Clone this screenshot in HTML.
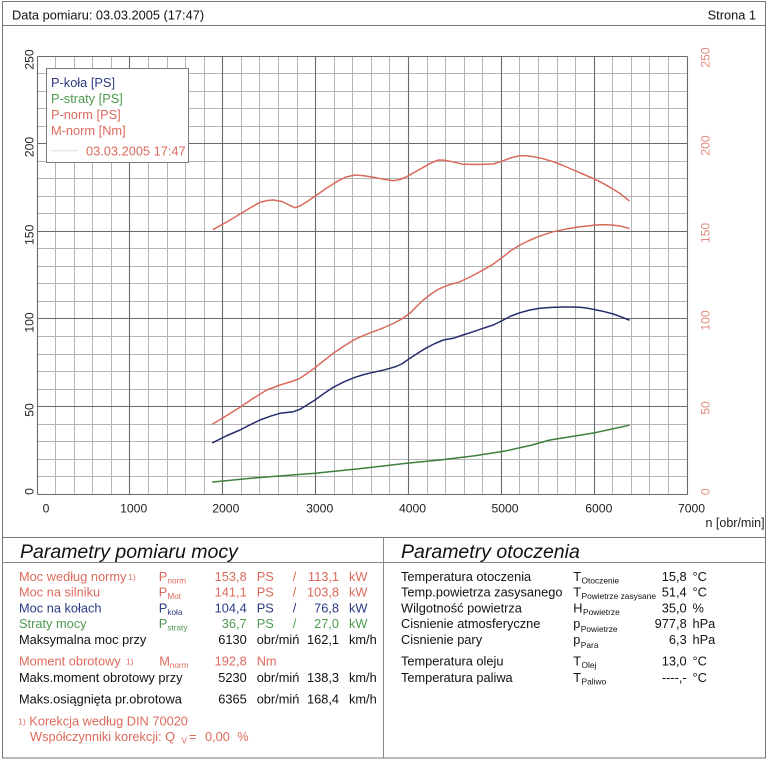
<!DOCTYPE html>
<html><head><meta charset="utf-8"><style>
html,body{margin:0;padding:0;background:#fff;}
body{width:768px;height:761px;overflow:hidden;}
svg{display:block;}
</style></head><body>
<svg width="768" height="761" viewBox="0 0 768 761" xmlns="http://www.w3.org/2000/svg" font-family="'Liberation Sans', Arial, sans-serif">
<rect x="0" y="0" width="768" height="761" fill="#fff"/>
<!-- frame -->
<rect x="2.5" y="1.5" width="763" height="756.5" fill="none" stroke="#777" stroke-width="1"/>
<line x1="2.5" y1="25.5" x2="765.5" y2="25.5" stroke="#777"/>
<line x1="2.5" y1="537.5" x2="765.5" y2="537.5" stroke="#777"/>
<line x1="2.5" y1="562.5" x2="765.5" y2="562.5" stroke="#888"/>
<line x1="383.5" y1="537.5" x2="383.5" y2="758" stroke="#888"/>
<!-- header -->
<text x="12" y="19.5" font-size="12.8" fill="#111">Data pomiaru: 03.03.2005 (17:47)</text>
<text x="756" y="19.5" font-size="12.8" fill="#111" text-anchor="end">Strona 1</text>
<!-- grid minor -->
<path fill="none" stroke="#b4b4b4" stroke-width="1" d="
M55.5 56.5V494.5 M74.5 56.5V494.5 M92.5 56.5V494.5 M111.5 56.5V494.5
M148.5 56.5V494.5 M167.5 56.5V494.5 M185.5 56.5V494.5 M204.5 56.5V494.5
M241.5 56.5V494.5 M259.5 56.5V494.5 M278.5 56.5V494.5 M297.5 56.5V494.5
M334.5 56.5V494.5 M352.5 56.5V494.5 M371.5 56.5V494.5 M389.5 56.5V494.5
M427.5 56.5V494.5 M445.5 56.5V494.5 M464.5 56.5V494.5 M482.5 56.5V494.5
M519.5 56.5V494.5 M538.5 56.5V494.5 M557.5 56.5V494.5 M575.5 56.5V494.5
M612.5 56.5V494.5 M631.5 56.5V494.5 M649.5 56.5V494.5 M668.5 56.5V494.5
M37.5 476.5H687.5 M37.5 459.5H687.5 M37.5 441.5H687.5 M37.5 424.5H687.5
M37.5 389.5H687.5 M37.5 371.5H687.5 M37.5 354.5H687.5 M37.5 336.5H687.5
M37.5 301.5H687.5 M37.5 283.5H687.5 M37.5 266.5H687.5 M37.5 248.5H687.5
M37.5 213.5H687.5 M37.5 196.5H687.5 M37.5 178.5H687.5 M37.5 161.5H687.5
M37.5 126.5H687.5 M37.5 108.5H687.5 M37.5 91.5H687.5 M37.5 73.5H687.5"/>
<!-- grid major -->
<path fill="none" stroke="#6a6a6a" stroke-width="1.1" d="
M37.5 56.5V494.5 M129.5 56.5V494.5 M222.5 56.5V494.5 M315.5 56.5V494.5
M408.5 56.5V494.5 M501.5 56.5V494.5 M594.5 56.5V494.5 M687.5 56.5V494.5
M37.5 494.5H687.5 M37.5 406.5H687.5 M37.5 318.5H687.5 M37.5 231.5H687.5
M37.5 143.5H687.5 M37.5 56.5H687.5"/>
<!-- legend -->
<rect x="46.5" y="68.5" width="142" height="94" fill="#fff" stroke="#7a7a7a"/>
<text x="51" y="87" font-size="12.8" fill="#2e3b80">P-koła [PS]</text>
<text x="51" y="103" font-size="12.8" fill="#4c9a4c">P-straty [PS]</text>
<text x="51" y="119" font-size="12.8" fill="#dd6a5c">P-norm [PS]</text>
<text x="51" y="135" font-size="12.8" fill="#dd6a5c">M-norm [Nm]</text>
<line x1="51" y1="150.7" x2="78" y2="150.7" stroke="#e2ddd6" stroke-width="1"/>
<text x="86" y="155.4" font-size="12.8" fill="#dd6a5c">03.03.2005 17:47</text>
<!-- curves -->
<polyline fill="none" stroke="#d96a5a" stroke-width="1.5" stroke-linejoin="round" stroke-linecap="round" points="213.3,229.3 226,222.5 240,214 250,208 260,202.3 267,200.5 273.3,200 282,201.5 290,205.5 295,207.7 300,206 308,201 316.7,195 326,188.5 336.7,181.7 346,177 355,175 364,175.8 373.3,177.3 383,179 393.3,180.7 400,179.5 406.7,176.7 415,172 423.3,167.3 431,163 438.3,160 445,160.3 452,161.7 463.3,164.3 478,164.5 493.3,164 503.3,160.7 512,157.5 520,155.7 527,155.8 533.3,156.7 543,158.7 553.3,161.7 563,165.5 573.3,170 584,174.5 595,179.3 603,183.3 610,187.3 620,193.5 629,200.7"/>
<polyline fill="none" stroke="#d96a5a" stroke-width="1.5" stroke-linejoin="round" stroke-linecap="round" points="212.7,424 226,416 240,407.3 253,398.5 266.7,390 280,385 293.3,381 300,378.3 307,373.5 315,367.7 324,360.5 333.3,353.3 344,346 355,339.3 364,335.3 373.3,331.7 383,328 393.3,323.5 401.7,319 410,313.3 417,306 423.3,300 431,294 438.3,289.3 444,286.8 450,284.6 460,281.7 470,277 480,271.7 487,267.7 493.3,264 503.3,256.7 511,250.5 520,245 528,241 536.7,237.3 545,234.3 553.3,231.7 565,229.3 576.7,227.3 585,226.2 593.3,225.3 600,224.8 606.7,224.7 614,225.2 620,226 629,228.3"/>
<polyline fill="none" stroke="#262d6c" stroke-width="1.5" stroke-linejoin="round" stroke-linecap="round" points="212.7,442.7 226,436 240,430 250,424.8 260,420 270,416.3 280,413.3 293.3,411.7 300,409.3 307,405 315,400 324,393.5 333.3,387.3 344,381.8 355,377.3 364,374.5 373.3,372.3 383,370.2 390,368.3 396,366.5 401.7,364 410,358.3 418,353 426.7,347.7 435,343.5 443.3,340 453.3,338.3 463,335 473.3,331.7 483,328.3 493.3,325 503.3,320 511,316 520,312.7 530,310 540,308.3 552,307.4 563.3,307 572,307 580,307.3 588,308.3 596.7,310 605,311.8 613.3,314 621,316.8 629,320"/>
<polyline fill="none" stroke="#3d803d" stroke-width="1.5" stroke-linejoin="round" stroke-linecap="round" points="212.7,482 256.7,477.7 315,473.3 356.7,469 406.7,463.3 440,460 475,455.8 506.7,450.7 530,445.5 550,440 572,436.5 595,432.7 612,429 629,425.3"/>
<!-- left axis labels -->
<g font-size="12.2" fill="#222" text-anchor="middle">
<text transform="translate(33.5,59.5) rotate(-90)">250</text>
<text transform="translate(33.5,147) rotate(-90)">200</text>
<text transform="translate(33.5,234.8) rotate(-90)">150</text>
<text transform="translate(33.5,322.5) rotate(-90)">100</text>
<text transform="translate(33.5,410) rotate(-90)">50</text>
<text transform="translate(33.5,491.5) rotate(-90)">0</text>
</g>
<!-- right axis labels -->
<g font-size="12.2" fill="#e08a7a" text-anchor="middle">
<text transform="translate(709.5,57.5) rotate(-90)">250</text>
<text transform="translate(709.5,145.5) rotate(-90)">200</text>
<text transform="translate(709.5,233) rotate(-90)">150</text>
<text transform="translate(709.5,320.5) rotate(-90)">100</text>
<text transform="translate(709.5,408) rotate(-90)">50</text>
<text transform="translate(709.5,491.7) rotate(-90)">0</text>
</g>
<!-- x axis labels -->
<g font-size="12.2" fill="#222" text-anchor="middle">
<text x="46" y="512.5">0</text>
<text x="133.7" y="512.5">1000</text>
<text x="225.8" y="512.5">2000</text>
<text x="319.7" y="512.5">3000</text>
<text x="412.5" y="512.5">4000</text>
<text x="505" y="512.5">5000</text>
<text x="598.8" y="512.5">6000</text>
<text x="691.5" y="512.5">7000</text>
</g>
<text x="705.5" y="527" font-size="12.5" fill="#222">n [obr/min]</text>

<!-- left table -->
<text x="20" y="558" font-size="19.5" font-style="italic" fill="#111">Parametry pomiaru mocy</text>
<g font-size="12.8">
<g fill="#dd6a5c">
<text x="19" y="581">Moc według normy</text>
<text x="128.3" y="580" font-size="8.4">1)</text>
<text x="158.7" y="581">P</text><text x="167.4" y="583.5" font-size="8.2">norm</text>
<text x="246.7" y="581" text-anchor="end">153,8</text>
<text x="256.7" y="581">PS</text>
<text x="292.7" y="581">/</text>
<text x="339" y="581" text-anchor="end">113,1</text>
<text x="349" y="581">kW</text>

<text x="19" y="596.7">Moc na silniku</text>
<text x="158.7" y="596.7">P</text><text x="167.4" y="599.2" font-size="8.2">Mot</text>
<text x="246.7" y="596.7" text-anchor="end">141,1</text>
<text x="256.7" y="596.7">PS</text>
<text x="292.7" y="596.7">/</text>
<text x="339" y="596.7" text-anchor="end">103,8</text>
<text x="349" y="596.7">kW</text>
</g>
<g fill="#2d3a86">
<text x="19" y="612.3">Moc na kołach</text>
<text x="158.7" y="612.3">P</text><text x="167.4" y="614.8" font-size="8.2">koła</text>
<text x="246.7" y="612.3" text-anchor="end">104,4</text>
<text x="256.7" y="612.3">PS</text>
<text x="292.7" y="612.3">/</text>
<text x="339" y="612.3" text-anchor="end">76,8</text>
<text x="349" y="612.3">kW</text>
</g>
<g fill="#4f9a50">
<text x="19" y="628">Straty mocy</text>
<text x="158.7" y="628">P</text><text x="167.4" y="630.5" font-size="8.2">straty</text>
<text x="246.7" y="628" text-anchor="end">36,7</text>
<text x="256.7" y="628">PS</text>
<text x="292.7" y="628">/</text>
<text x="339" y="628" text-anchor="end">27,0</text>
<text x="349" y="628">kW</text>
</g>
<g fill="#111">
<text x="19" y="644">Maksymalna moc przy</text>
<text x="246.7" y="644" text-anchor="end">6130</text>
<text x="256.7" y="644">obr/miń</text>
<text x="339" y="644" text-anchor="end">162,1</text>
<text x="349" y="644">km/h</text>
</g>
<g fill="#dd6a5c">
<text x="19" y="665.7">Moment obrotowy</text>
<text x="126" y="664.7" font-size="8.4">1)</text>
<text x="159.3" y="665.7">M</text><text x="169.8" y="668.2" font-size="8.2">norm</text>
<text x="246.7" y="665.7" text-anchor="end">192,8</text>
<text x="256.7" y="665.7">Nm</text>
</g>
<g fill="#111">
<text x="19" y="682">Maks.moment obrotowy przy</text>
<text x="246.7" y="682" text-anchor="end">5230</text>
<text x="256.7" y="682">obr/miń</text>
<text x="339" y="682" text-anchor="end">138,3</text>
<text x="349" y="682">km/h</text>

<text x="19" y="703.3">Maks.osiągnięta pr.obrotowa</text>
<text x="246.7" y="703.3" text-anchor="end">6365</text>
<text x="256.7" y="703.3">obr/miń</text>
<text x="339" y="703.3" text-anchor="end">168,4</text>
<text x="349" y="703.3">km/h</text>
</g>
<g fill="#dd6a5c">
<text x="18.3" y="724.7" font-size="8.4">1)</text>
<text x="29.3" y="725.7">Korekcja według DIN 70020</text>
<text x="30" y="741">Współczynniki korekcji: Q</text>
<text x="181.5" y="743.5" font-size="8.2">V</text>
<text x="189" y="741">=</text>
<text x="205" y="741">0,00</text>
<text x="237.3" y="741">%</text>
</g>
</g>

<!-- right table -->
<text x="401" y="558" font-size="19.5" font-style="italic" fill="#111">Parametry otoczenia</text>
<g font-size="12.8" fill="#111">
<text x="401" y="581">Temperatura otoczenia</text>
<text x="573.3" y="581">T</text><text x="581.5" y="583.5" font-size="8.4">Otoczenie</text>
<text x="686.7" y="581" text-anchor="end">15,8</text>
<text x="692.5" y="581">°C</text>

<text x="401" y="596.7">Temp.powietrza zasysanego</text>
<text x="573.3" y="596.7">T</text><text x="581.5" y="599.2" font-size="8.4">Powietrze zasysane</text>
<text x="686.7" y="596.7" text-anchor="end">51,4</text>
<text x="692.5" y="596.7">°C</text>

<text x="401" y="612.3">Wilgotność powietrza</text>
<text x="573.3" y="612.3">H</text><text x="583" y="614.8" font-size="8.4">Powietrze</text>
<text x="686.7" y="612.3" text-anchor="end">35,0</text>
<text x="692.5" y="612.3">%</text>

<text x="401" y="628">Cisnienie atmosferyczne</text>
<text x="573.3" y="628">p</text><text x="580.8" y="632" font-size="8.4">Powietrze</text>
<text x="686.7" y="628" text-anchor="end">977,8</text>
<text x="692.5" y="628">hPa</text>

<text x="401" y="644">Cisnienie pary</text>
<text x="573.3" y="644">p</text><text x="580.8" y="648" font-size="8.4">Para</text>
<text x="686.7" y="644" text-anchor="end">6,3</text>
<text x="692.5" y="644">hPa</text>

<text x="401" y="665.7">Temperatura oleju</text>
<text x="573.3" y="665.7">T</text><text x="581.5" y="668.2" font-size="8.4">Olej</text>
<text x="686.7" y="665.7" text-anchor="end">13,0</text>
<text x="692.5" y="665.7">°C</text>

<text x="401" y="682">Temperatura paliwa</text>
<text x="573.3" y="682">T</text><text x="581.5" y="684.5" font-size="8.4">Paliwo</text>
<text x="686.7" y="682" text-anchor="end">----,-</text>
<text x="692.5" y="682">°C</text>
</g>
</svg>
</body></html>
